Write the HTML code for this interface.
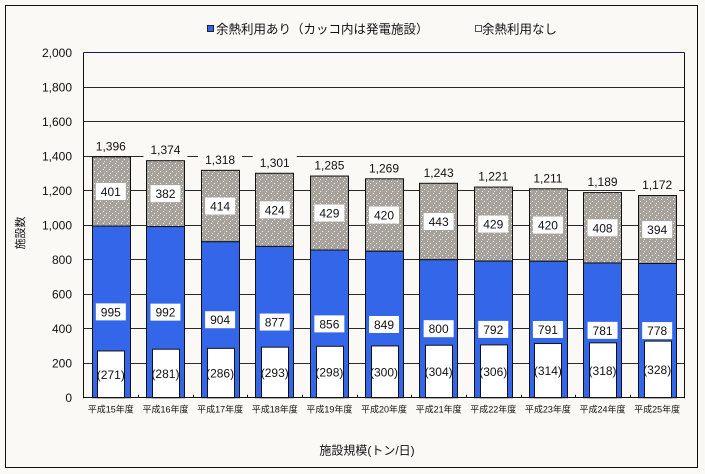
<!DOCTYPE html>
<html><head><meta charset="utf-8">
<style>
html,body{margin:0;padding:0;background:#FBF9F5;}
svg{display:block;}
text{font-family:"Liberation Sans","Noto Sans CJK JP",sans-serif;fill:#111;}
</style></head>
<body>
<svg width="705" height="474" viewBox="0 0 705 474" xmlns="http://www.w3.org/2000/svg">
<defs>
<pattern id="sp" width="6" height="6" patternUnits="userSpaceOnUse">
<rect width="6" height="6" fill="#A8A29D"/>
<rect x="1" y="1" width="1" height="1" fill="#fff"/>
<rect x="4" y="3" width="1" height="1" fill="#F2F0EC"/>
<rect x="2" y="5" width="1" height="1" fill="#E8E6E2"/>
</pattern>
</defs>
<rect x="0" y="0" width="705" height="474" fill="#FBF9F5"/>
<rect x="5.5" y="5.5" width="692" height="462" fill="#FBF9F5" stroke="#111" stroke-width="1"/>

<!-- legend -->
<rect x="207.5" y="25.5" width="6" height="6" fill="#3366E8" stroke="#223" stroke-width="1"/>
<text x="216" y="33.5" font-size="12.5">余熱利用あり（カッコ内は発電施設）</text>
<rect x="475.5" y="25.5" width="6" height="6" fill="#fff" stroke="#555" stroke-width="1"/>
<text x="482" y="33.5" font-size="12.5">余熱利用なし</text>

<!-- plot bg -->
<rect x="83.5" y="52.7" width="601" height="345" fill="#FBF9F5"/>

<g id="grid" stroke="#2a2a2a" stroke-width="1"></g>
<g id="bars"></g>

<!-- axis title -->
<text x="367" y="454.5" font-size="12" text-anchor="middle">施設規模(トン/日)</text>
<text transform="translate(24,233) rotate(-90)" font-size="11" text-anchor="middle">施設数</text>

<script>
(function(){
var NS="http://www.w3.org/2000/svg";
function el(t,a,p,txt){var e=document.createElementNS(NS,t);for(var k in a)e.setAttribute(k,a[k]);if(txt!==undefined)e.textContent=txt;(p||document.querySelector('svg')).appendChild(e);return e;}
var svg=document.querySelector('svg');
var L=83.5,R=684.5,B=397.7,k=0.1725;
function Y(v){return B-v*k;}
var grid=document.getElementById('grid');
for(var v=200;v<=2000;v+=200){
  var y=Math.round(Y(v)-0.5)+0.5;
  el('line',{x1:L,x2:R,y1:y,y2:y,stroke:v==2000?'#1a1a55':'#2a2a2a'},grid);
}
for(var v=0;v<=2000;v+=200){
  var s=v>=1000?(Math.floor(v/1000)+','+('00'+(v%1000)).slice(-3)):String(v);
  el('text',{x:72,y:Y(v)+4.5,'font-size':12,'text-anchor':'end'},svg,s);
}
var tot=[1396,1374,1318,1301,1285,1269,1243,1221,1211,1189,1172];
var blu=[995,992,904,877,856,849,800,792,791,781,778];
var wh=[271,281,286,293,298,300,304,306,314,318,328];
var cw=(R-L)/11;
var g=document.getElementById('bars');
for(var i=0;i<11;i++){
  var cx=L+cw*(i+0.5);
  var x0=Math.round(cx-19.25)+0.5, w=38;
  var yt=Y(tot[i]), yb=Y(blu[i]), yw=Y(wh[i]);
  el('rect',{x:x0,y:yt,width:w,height:yb-yt,fill:'url(#sp)',stroke:'#111','stroke-width':1},g);
  el('rect',{x:x0,y:yb,width:w,height:B-yb,fill:'#3366E8',stroke:'#111','stroke-width':1},g);
  var xw=Math.round(cx-13.5)+0.5;
  el('rect',{x:xw,y:yw,width:27,height:B-yw,fill:'#fff',stroke:'#111','stroke-width':1},g);
  var gm=(Y(tot[i])+Y(blu[i]))/2;
  el('rect',{x:cx-15,y:gm-8.5,width:30,height:17,fill:'#fff'},g);
  el('text',{x:cx,y:gm+4.5,'font-size':12,'text-anchor':'middle'},g,String(tot[i]-blu[i]));
  var bm=Y(blu[i]/2);
  el('rect',{x:cx-15,y:bm-8.5,width:30,height:17,fill:'#fff'},g);
  el('text',{x:cx,y:bm+4.5,'font-size':12,'text-anchor':'middle'},g,String(blu[i]));
  var wm=Y(wh[i]/2);
  el('text',{x:cx,y:wm+4.5,'font-size':12,'text-anchor':'middle'},g,'('+wh[i]+')');
  var tl=yt-11;
  el('rect',{x:cx-22,y:tl-8,width:44,height:16,fill:'#FBF9F5'},g);
  var ts=Math.floor(tot[i]/1000)+','+('00'+(tot[i]%1000)).slice(-3);
  el('text',{x:cx,y:tl+4.5,'font-size':12,'text-anchor':'middle'},g,ts);
  el('text',{x:cx,y:412.5,'font-size':9,'text-anchor':'middle'},g,'平成'+(15+i)+'年度');
  if(i>0){var bx=Math.round(L+cw*i)+0.5;el('line',{x1:bx,x2:bx,y1:B-3,y2:B,stroke:'#111'},g);}
}
el('line',{x1:L,x2:L,y1:52.5,y2:B+0.5,stroke:'#111'},svg);
el('line',{x1:R,x2:R,y1:52.5,y2:B+0.5,stroke:'#111'},svg);
el('line',{x1:L,x2:R,y1:Math.round(B)+0.5-1,y2:Math.round(B)+0.5-1,stroke:'#111'},svg);
})();
</script>
</svg>
</body></html>
